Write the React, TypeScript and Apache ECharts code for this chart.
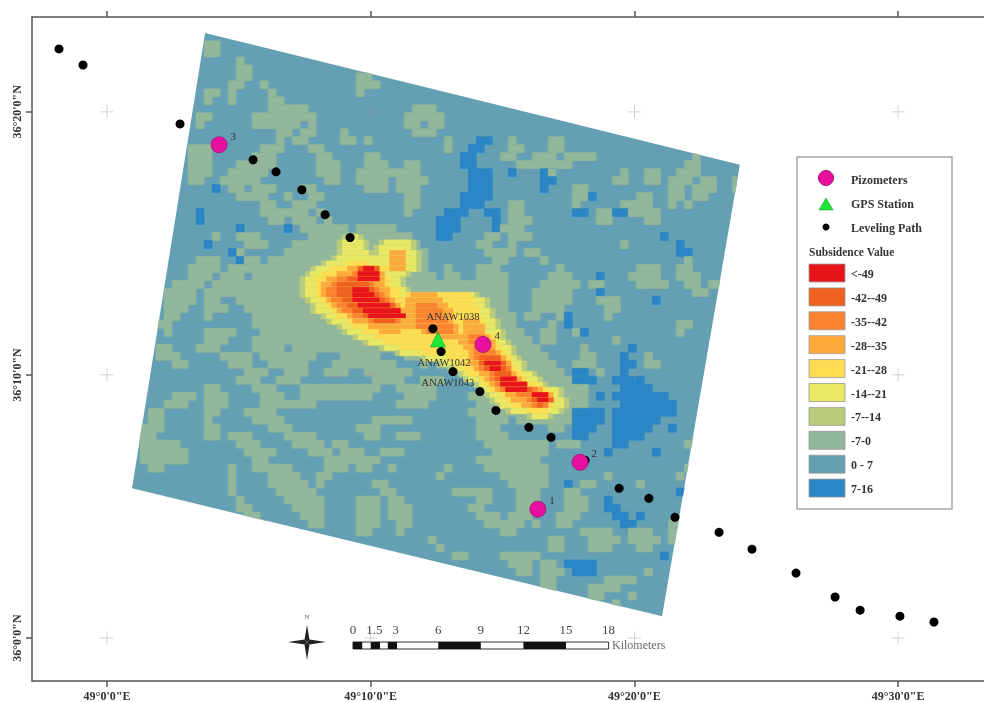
import React, { useEffect, useRef } from "react";
import * as echarts from "echarts";

// All map positions are arc-minutes east of 49°E and north of 36°N.
const lonTicks = [0, 10, 20, 30];
const latTicks = [0, 10, 20];
const rasterCorners = [[3.72, 23.0], [24.0, 17.99], [21.05, 0.83], [0.95, 5.69]];
const levelingPath = [
  [-1.82, 22.39], [-0.91, 21.78], [2.77, 19.54], [5.54, 18.18], [6.41, 17.72], [7.39, 17.04], [8.27, 16.09],
  [9.22, 15.22], [12.36, 11.76], [12.67, 10.89], [13.12, 10.13], [14.14, 9.37], [14.75, 8.65], [16.0, 8.01],
  [16.84, 7.63], [18.13, 6.76], [19.42, 5.69], [20.55, 5.31], [21.54, 4.59], [23.21, 4.02], [24.46, 3.38],
  [26.13, 2.47], [27.61, 1.56], [28.56, 1.06], [30.07, 0.83], [31.36, 0.61],
];
const pizometers = [
  [16.34, 4.9, "1"], [17.94, 6.68, "2"], [4.25, 18.75, "3"], [14.26, 11.16, "4"],
];
const gpsStation = [[12.55, 11.35]];
const stationLabels = [
  [13.12, 12.22, "ANAW1038"], [12.78, 10.47, "ANAW1042"], [12.93, 9.72, "ANAW1043"],
];
const classLabels = ["<-49", "-42--49", "-35--42", "-28--35", "-21--28", "-14--21", "-7--14", "-7-0", "0 - 7", "7-16"];
const classColors = ["#e8141c", "#f0601f", "#fb8230", "#fdaa3c", "#fedd52", "#e8e864", "#b9cc7c", "#93b79a", "#659fb3", "#2a86c4"];
const classKeys = "rmoayelgcb";
const scaleKm = [0, 1.5, 3, 6, 9, 12, 15, 18];
const scaleBlackKm = [[0, 0.65], [1.25, 1.9], [2.45, 3.1], [6, 9], [12, 15]];

// Classified raster, coarse: one string per row, runs of a class by column.
const coarseRows = [
  "", "g9-10", "g9-10", "g13", "g13-14", "g13-14 g28-29", "g12-13 g16 g28-30", "g9-10 g12 g17 g28", "g9 g12 g17-18",
  "g17-19 g20-21 g35-37", "g8-9 g15-16 g17-19 g20-22 g34-38", "g8 g15-20 g22 g34-35 g37-38", "g18-19 g21-22 g26 g35-37",
  "g18 g20-21 g26-27 g29 g39 b43-44 g47 g52-53", "g7-9 g16-18 g22-23 g39 b42-43 g47-48 g52-53",
  "g7-9 g15-17 g23-24 g29-30 b41-42 g46-47 g50-52 g54-57 g70", "g7-9 g13-17 g23-25 g29-31 g34-35 b41-42 g48-49 g50-54 g69-70",
  "g7-9 g12-16 g23-25 g28-32 g33-35 b42-44 b47 b51-52 g52 g61 g64-65 g68-70", "g7-8 g11-15 g24-25 g28-31 g33-36 b42-44 b51-52 g60-61 g64-65 g67-69 g71-72 g75",
  "b10 g12-13 g15-17 g21-22 g29-31 g33-35 b42-44 b51 g55-56 g67-68 g70-72 g75", "g13-16 g19 g22-23 g34-35 b41-44 g55-56 b57 g63-64 g67-68 g70-71",
  "g16-17 g20-22 g34-35 b41-43 g47-48 g55 g61-64 g67 g69", "b8 g16-18 g19-21 g23 g34 b39-41 b44-45 g47-48 b55-56 g58-59 b60-61 g62-65",
  "b8 g17-18 g20-22 g24 b38-40 b45 g47-49 g58-59 g64-65", "b13 b19 g21-24 g25-26 g28-32 b38-40 b45-46 g46-48", "g10 b14 g13-15 g22-26 g27-34 b38-39 g44-45 g47-49 b66",
  "g14-16 b9 g20-35 g43-44 g47 g61 b68", "g12-13 b12 g19-36 g44-47 b68-69 g49-50", "g8-10 b13 g14-15 g17-36 g45-46 g51 g69", "g7-10 g12-14 g15-36 g39 g43-45 g53 g63-65 g68-69",
  "g7-9 g11-13 g15-37 g39-40 g43-46 g52-54 b58 g62-65 g68-70", "g5-8 g10-13 g14-46 g51-55 g57-58 g63-66 g69-70 g72-73", "g4-7 g9-12 g13-46 g50-54 b58 g70-71", "g4-7 g9-10 g13-46 g50-54 g58 g59-60 b65",
  "g4-6 g9-11 g14-46 g50-53 g60 g59-60", "g4-5 g9 g15-47 g49-50 g53 b54 g59", "g3-4 g15-47 g52 b54 g68-69", "g4 g9-12 g16-48 g51-52 g55 b56 g68", "g9-11 g15-49 g51-52 g60",
  "g3-4 g8-10 g15-18 g20-50 g56 b62", "g3-5 g11-14 g16-22 g26-30 g34-51 g56-57 g64 b61", "g5-6 g12-14 g17-21 g25-32 g36 g38-52 g55-57 b61-62 g64-65", "g14-16 g19-21 g24-26 g29-34 g42-53 b55-56 b61 g58",
  "g13-15 g18-20 g30-33 g36-38 g44-55 b55-57 b60-63", "g9-10 g15-17 g21-30 g33-37 g44-56 b61-64", "g5-7 g9-11 g16-18 g21-29 g34-37 g42-56 b58 b60-66", "g4-6 g9-11 g16-20 g21-22 g33-36 g43-56 b61-67",
  "g2-3 g9-10 g14-17 g42-54 b55-58 b60-67", "g2-3 g9 g15-18 g30-34 g43-46 g48-54 b55-58 b60-65", "g1-3 g9-10 g17-19 g28-30 g43-45 g52-53 b55-57 b60-64 b67", "g1-2 g9-10 g12-14 g19-22 g29-30 g33-35 g43-46 b55-56 b60-63",
  "g1-5 g13-15 g20-23 g25-26 g44-51 g53-55 b60-61 g69", "g1-6 g14-17 g22-24 g26-28 g31-33 g45-51 b59 b65", "g1-6 g15-16 g24-26 g27-30 g43-50 g70-71", "g2-3 g12 g15-19 g24-26 g28-29 g32 g39 g44-51 g69",
  "g12 g17-20 g23-24 g38 g46-51 g59 g68", "g12 g17-21 g23 g30-31 g47-51 b54 g56-57 g63 g73", "g12 g18-22 g31-32 g40-41 g42-44 g48-50 g54-55 b68", "g13 g19-23 g28-30 g32-33 g43-44 g48-50 g54-56 b59",
  "g13-14 g20-23 g28-30 g32-34 g42-43 g48-49 g54-56 b59-60", "g14-15 g21-23 g28-30 g32-34 g43-45 g47-49 g53-55 b60-61 b63", "g14-16 g22-23 g28-30 g33-34 g44-48 g50 g53-54 b61-62 g67-68",
  "g14-17 g28-29 g33 g46-47 g56-59 g62-64 g67-68", "g15-19 g37 g52-53 g57-60 g62-65 g67", "g17-20 g38 g52-53 g57-59 g63-64", "g40-41 g46-50 b66", "g47-49 g51-52 b54-57", "g48-49 g51-53 b55-57 g64",
  "g51-52 g59-62", "g51-52 g57-60", "g51 g57-58 g62", "g60",
];

// Classified raster, fine: the subsidence bowl, painted in order from the rim inwards.
const bowlRows = [
  "l8-11 e9-10", "l7-12 e8-11 l15-21 e16-20", "l7-12 e8-11 l14-21 e15-20", "l7-13 e8-12 l14-22 e15-21 a17-19", "l6-22 e7-13 e14-21 a17-19",
  "l4-22 e5-21 y9-12 a17-19", "l2-22 e3-21 y6-15 a9-14 m11-14 r12-13 y16-19 a17-19", "l1-20 e2-19 y4-15 a7-15 o10-14 m11-14 r11-14", "l0-19 e1-18 y3-16 a5-15 o7-14 m9-14 r11-14",
  "l0-19 e1-18 y3-16 a4-15 o6-13 m7-12", "l0-20 e1-19 y3-18 a4-16 o5-14 m7-13 r10-12", "l0-33 e1-32 y3-18 a4-16 o5-15 m7-14 r10-13 y20-31 a21-25",
  "l1-35 e2-34 y4-32 a5-17 o6-16 m8-15 r10-14 a20-26", "l2-35 e3-34 y5-32 a6-18 o7-17 m9-17 r11-16 a20-27 o22-25", "l2-36 e3-35 y6-33 a7-19 o8-18 m10-18 r12-18 a20-28 o22-26",
  "l4-36 e5-35 y7-33 a9-28 o10-19 m12-18 r13-19 o22-26", "l5-37 e6-36 y9-34 a10-28 o13-18 m14-17 o22-27 a31-33", "l7-37 e8-36 y10-34 a13-29 o22-28 a31-34", "l8-38 e9-37 y12-34 a15-18 a23-29 o24-28 a31-34",
  "l10-38 e11-37 y14-36 a26-29 a30-35 o32-34", "l12-39 e13-38 y16-36 a30-36 o32-35", "l15-40 e16-39 y19-37 a31-36 o33-35", "l18-40 e19-39 y23-38 a32-37 o33-36",
  "l23-41 e24-40 y28-39 a32-38 o33-37 m34-37", "l26-42 e27-41 y30-39 a32-39 o34-38 m34-38 r35-37", "l28-42 e29-41 y31-40 a33-39 o34-39 m35-38 r36-37", "l30-44 e31-43 y32-41 a34-40 o36-39 m37-39",
  "l31-45 e32-44 y34-42 a35-41 o36-40 m37-40 r38-40", "l33-46 e34-45 y35-44 a36-42 o37-42 m38-42 r38-42", "l34-49 e35-48 y36-46 a37-45 o38-44 m39-43 r39-42", "l35-49 e36-48 y38-47 a39-47 o41-46 m44-46 r44-46",
  "l36-50 e37-49 y39-47 a40-47 o43-47 m44-47 r45-46", "l37-50 e38-49 y40-47 a42-46 o44-46 m45-45", "l39-49 e40-48 y43-46", "l43-47 e44-46",
];

const X_MIN = -2.844, X_MAX = 33.258, Y_MIN = -1.632, Y_MAX = 23.605;

function buildRuns(rows: string[], lon0: number, lat0: number, step: number) {
  const out: number[][] = [];
  rows.forEach((row, r) => {
    row.split(" ").filter(Boolean).forEach((run) => {
      const key = classKeys.indexOf(run[0]);
      const [a, b] = run.slice(1).split("-").map(Number);
      const end = b === undefined ? a : b;
      out.push([lon0 + a * step, lon0 + (end + 1) * step, lat0 - r * step, lat0 - (r + 1) * step, key]);
    });
  });
  return out;
}

function clipToQuad(pts: number[][], quad: number[][]) {
  let output = pts;
  for (let i = 0; i < quad.length; i++) {
    const A = quad[i], B = quad[(i + 1) % quad.length];
    const side = (p: number[]) => (B[0] - A[0]) * (p[1] - A[1]) - (B[1] - A[1]) * (p[0] - A[0]);
    const input = output;
    output = [];
    for (let j = 0; j < input.length; j++) {
      const P = input[j], Q = input[(j + 1) % input.length];
      const sp = side(P), sq = side(Q);
      if (sp >= 0) output.push(P);
      if ((sp >= 0) !== (sq >= 0)) {
        const t = sp / (sp - sq);
        output.push([P[0] + t * (Q[0] - P[0]), P[1] + t * (Q[1] - P[1])]);
      }
    }
    if (!output.length) break;
  }
  return output;
}

function rasterSeries(data: number[][], z: number) {
  return {
    type: "custom", coordinateSystem: "cartesian2d", xAxisIndex: 0, yAxisIndex: 0, silent: true, z, progressive: 0,
    data,
    renderItem: (_: any, api: any) => {
      const [x0, x1, y0, y1] = [api.value(0), api.value(1), api.value(2), api.value(3)];
      const quad = rasterCorners.map((c) => api.coord(c));
      const box = [api.coord([x0, y0]), api.coord([x1, y0]), api.coord([x1, y1]), api.coord([x0, y1])];
      const points = clipToQuad(box, quad);
      if (points.length < 3) return null;
      const color = classColors[api.value(4)];
      return { type: "polygon", shape: { points }, style: { fill: color, stroke: color, lineWidth: 0.6 } };
    },
  };
}

function scaleBarGraphics() {
  const kmX = (km: number) => 353 + km * 14.2;
  const items: any[] = [
    { type: "rect", shape: { x: kmX(0), y: 642, width: kmX(18) - kmX(0), height: 7 }, style: { fill: "#fff", stroke: "#333", lineWidth: 1 } },
  ];
  scaleBlackKm.forEach(([a, b]) => items.push({ type: "rect", shape: { x: kmX(a), y: 642, width: (b - a) * 14.2, height: 7 }, style: { fill: "#111" } }));
  scaleKm.forEach((km) => items.push({
    type: "text", style: { text: String(km), x: kmX(km), y: 629, font: "13px 'Liberation Serif'", fill: "#444", textAlign: "center", textVerticalAlign: "middle" },
  }));
  items.push({ type: "text", style: { text: "Kilometers", x: 612, y: 645, font: "12px 'Liberation Serif'", fill: "#666", textVerticalAlign: "middle" } });
  // north arrow
  const cx = 307, cy = 642;
  const star = [
    [[cx, 625], [cx - 2.5, cy - 2.5], [cx, cy]], [[cx, 625], [cx + 2.5, cy - 2.5], [cx, cy]],
    [[cx, 660], [cx - 2.5, cy + 2.5], [cx, cy]], [[cx, 660], [cx + 2.5, cy + 2.5], [cx, cy]],
    [[288, cy], [cx - 2.5, cy - 2.5], [cx, cy]], [[288, cy], [cx - 2.5, cy + 2.5], [cx, cy]],
    [[326, cy], [cx + 2.5, cy - 2.5], [cx, cy]], [[326, cy], [cx + 2.5, cy + 2.5], [cx, cy]],
  ];
  star.forEach((points) => items.push({ type: "polygon", shape: { points }, style: { fill: "#222" } }));
  items.push({ type: "text", style: { text: "N", x: 307, y: 617, font: "7px 'Liberation Serif'", fill: "#666", textAlign: "center", textVerticalAlign: "middle" } });
  return items;
}

function legendGraphics() {
  const bold = "bold 12px 'Liberation Serif'";
  const items: any[] = [
    { type: "rect", shape: { x: 797, y: 157, width: 155, height: 352 }, style: { fill: "#fff", stroke: "#a8a8a8", lineWidth: 1.5 } },
    { type: "circle", shape: { cx: 826, cy: 178, r: 7.5 }, style: { fill: "#e60f9e", stroke: "#a01070", lineWidth: 1 } },
    { type: "polygon", shape: { points: [[826, 198], [819, 210], [833, 210]] }, style: { fill: "#1fe63a", stroke: "#18a030", lineWidth: 0.6 } },
    { type: "circle", shape: { cx: 826, cy: 227, r: 3.5 }, style: { fill: "#000" } },
  ];
  [["Pizometers", 180], ["GPS Station", 204], ["Leveling Path", 228]].forEach(([text, y]) => items.push({
    type: "text", style: { text, x: 851, y, font: bold, fill: "#333", textVerticalAlign: "middle" },
  }));
  items.push({ type: "text", style: { text: "Subsidence Value", x: 809, y: 252, font: "bold 11.5px 'Liberation Serif'", fill: "#333", textVerticalAlign: "middle" } });
  classLabels.forEach((label, i) => {
    const y = 264 + i * 23.9;
    items.push({ type: "rect", shape: { x: 809, y, width: 36, height: 18 }, style: { fill: classColors[i], stroke: "#999", lineWidth: 0.8 } });
    items.push({ type: "text", style: { text: label, x: 851, y: y + 10, font: bold, fill: "#333", textVerticalAlign: "middle" } });
  });
  return items;
}

export default function App() {
  const ref = useRef<HTMLDivElement>(null);
  useEffect(() => {
    document.body.style.margin = "0";
    const chart = echarts.init(ref.current!, undefined, { renderer: "svg" });
    const crosses: number[][] = [];
    latTicks.forEach((lat) => lonTicks.forEach((lon) => crosses.push([lon, lat])));
    const labelFont = { fontFamily: "Liberation Serif", fontWeight: "bold" as const, fontSize: 12, color: "#333" };
    const axisLine = { show: true, onZero: false, lineStyle: { color: "#555", width: 1.5 } };
    const tick = { show: true, length: 6, lineStyle: { color: "#555", width: 1.5 }, customValues: lonTicks };
    chart.setOption({
      animation: false,
      backgroundColor: "#fff",
      grid: { left: 32, top: 17, right: 0, bottom: 20 },
      xAxis: [
        { type: "value", position: "bottom", min: X_MIN, max: X_MAX, splitLine: { show: false }, axisLine, axisTick: tick,
          axisLabel: { ...labelFont, margin: 9, customValues: lonTicks, formatter: (v: number) => `49°${v}'0"E` } },
        { type: "value", position: "top", min: X_MIN, max: X_MAX, splitLine: { show: false }, axisLine, axisTick: tick, axisLabel: { show: false } },
      ],
      yAxis: [
        { type: "value", position: "left", min: Y_MIN, max: Y_MAX, splitLine: { show: false }, axisLine,
          axisTick: { ...tick, customValues: latTicks },
          axisLabel: { ...labelFont, rotate: 90, margin: 9, customValues: latTicks, formatter: (v: number) => `36°${v}'0"N` } },
      ],
      series: [
        {
          type: "custom", coordinateSystem: "cartesian2d", silent: true, z: 1, data: [[0]],
          renderItem: (_: any, api: any) => ({
            type: "polygon", shape: { points: rasterCorners.map((c) => api.coord(c)) }, style: { fill: classColors[8] },
          }),
        },
        rasterSeries(buildRuns(coarseRows, 0.95, 23.0, 0.3035), 2),
        rasterSeries(buildRuns(bowlRows, 7.32, 15.33, 0.2), 3),
        { type: "scatter", name: "Graticule", silent: true, z: 4, data: crosses, symbol: "path://M6 0h.7v6h6v.7h-6v6h-.7v-6h-6v-.7h6z", symbolSize: 13, itemStyle: { color: "#999", opacity: 0.6 } },
        { type: "scatter", name: "Leveling Path", silent: true, z: 5, data: levelingPath, symbol: "circle", symbolSize: 9, itemStyle: { color: "#000", opacity: 1 } },
        {
          type: "scatter", name: "Station labels", silent: true, z: 6, data: stationLabels, symbolSize: 1, itemStyle: { color: "rgba(0,0,0,0)", opacity: 1 },
          label: { show: true, position: "inside", formatter: (p: any) => p.value[2], fontFamily: "Liberation Serif", fontSize: 10.5, color: "#333" },
        },
        {
          type: "scatter", name: "Pizometers", silent: true, z: 7, data: pizometers, symbol: "circle", symbolSize: 16,
          itemStyle: { color: "#e60f9e", borderColor: "#a01070", borderWidth: 0.8, opacity: 1 },
          label: { show: true, position: "right", offset: [-2, -9], formatter: (p: any) => p.value[2], fontFamily: "Liberation Serif", fontSize: 11, color: "#333" },
        },
        { type: "scatter", name: "GPS Station", silent: true, z: 7, data: gpsStation, symbol: "triangle", symbolSize: 15, itemStyle: { color: "#1fe63a", borderColor: "#18a030", borderWidth: 0.6, opacity: 1 } },
      ],
      graphic: { elements: [...scaleBarGraphics(), ...legendGraphics()] },
    });
    return () => chart.dispose();
  }, []);
  return <div ref={ref} style={{ width: 984, height: 702, filter: "blur(0.6px)" }} />;
}
